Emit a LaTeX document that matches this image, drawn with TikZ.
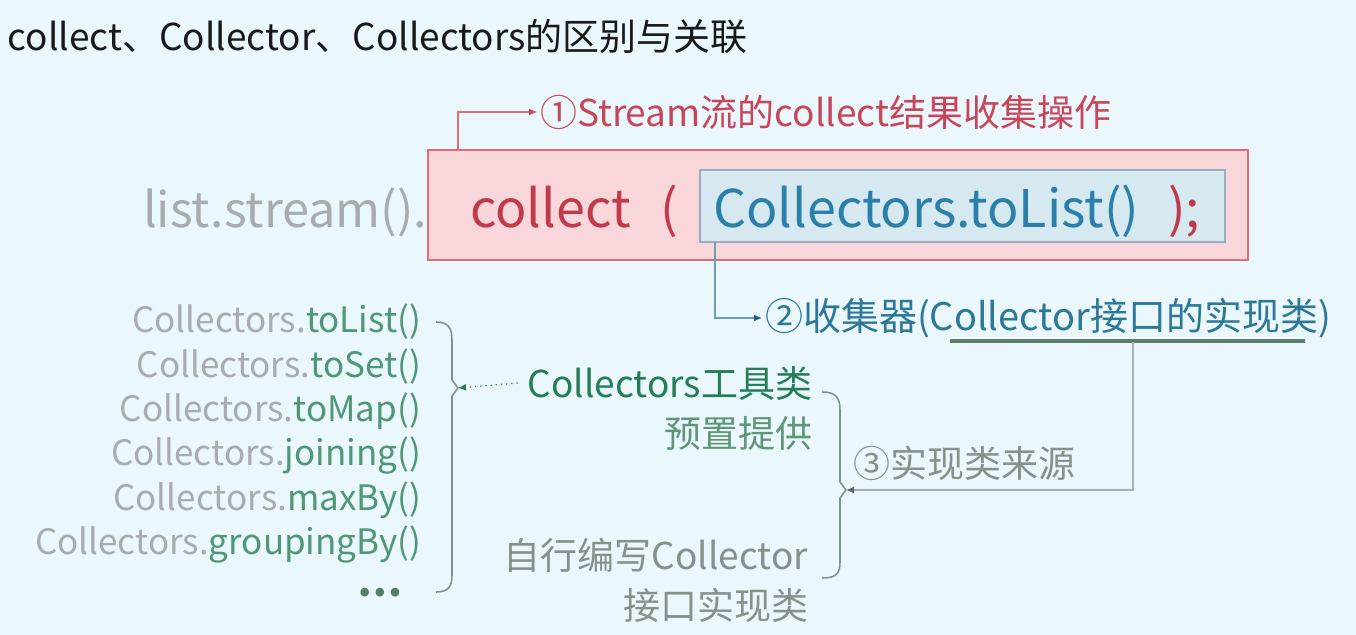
\documentclass[tikz,border=0pt]{standalone}
\usepackage{fontspec}
\setmainfont{Noto Sans CJK SC}
\usetikzlibrary{arrows.meta}
\definecolor{bg}{RGB}{234,247,252}
\definecolor{redfill}{RGB}{248,214,218}
\definecolor{redline}{RGB}{222,110,118}
\definecolor{redtext}{RGB}{192,58,76}
\definecolor{bluefill}{RGB}{214,232,240}
\definecolor{blueline}{RGB}{150,175,190}
\definecolor{bluetext}{RGB}{42,128,168}
\definecolor{graytext}{RGB}{168,172,175}
\definecolor{annored}{RGB}{200,70,90}
\definecolor{annoblue}{RGB}{45,120,150}
\definecolor{dgreen}{RGB}{35,125,85}
\definecolor{lgreen}{RGB}{95,150,120}
\definecolor{lgray}{RGB}{135,145,140}
\definecolor{linegray}{RGB}{165,175,175}
\definecolor{bracec}{RGB}{125,150,140}
\definecolor{ulc}{RGB}{95,125,105}
\definecolor{titlec}{RGB}{25,25,25}
\tikzset{
  code/.style={font=\fontsize{26pt}{30pt}\selectfont},
  anno/.style={font=\fontsize{18.5pt}{22pt}\selectfont},
  mid/.style={font=\fontsize{18.5pt}{22pt}\selectfont},
  lst/.style={font=\fontsize{17.5pt}{21pt}\selectfont, anchor=east},
  boxred/.style={draw=redline, fill=redfill, line width=0.9pt, minimum width=410pt, minimum height=55pt},
  boxblue/.style={draw=blueline, fill=bluefill, line width=0.7pt, minimum width=262.5pt, minimum height=36pt},
  arrred/.style={draw=redline, line width=0.6pt, -{Latex[length=4pt,width=3.5pt,color=annored]}},
  arrblue/.style={draw=annoblue!70, line width=0.6pt, -{Latex[length=4pt,width=3.5pt,color=annoblue!80!black]}},
  arrgray/.style={draw=linegray, line width=0.6pt, -{Latex[length=4pt,width=3.5pt,color=lgray!70!black]}},
  arrdot/.style={draw=dgreen, line width=0.6pt, dotted, -{Latex[length=4pt,width=3.5pt]}},
  bracel/.style={draw=bracec, line width=0.8pt, line join=round},
  uline/.style={draw=ulc, line width=1.6pt}
}
\begin{document}
\begin{tikzpicture}[x=0.5pt,y=-0.5pt, every node/.style={inner sep=0pt, outer sep=0pt}]
\fill[bg] (0,0) rectangle (1356,635);
\useasboundingbox (0,0) rectangle (1356,635);

% title
\node[anchor=west, text=titlec, font=\fontsize{18.5pt}{22pt}\selectfont] (title) at (8,37) {collect、Collector、Collectors的区别与关联};

% code line
\node[boxred] (rb) at (838,205) {};
\node[boxblue] (bb) at (962.5,206) {};
\node[code, text=graytext, anchor=base west, font=\fontsize{24.3pt}{28pt}\selectfont] (ls) at (143,228) {list.stream().};
\node[code, text=redtext, anchor=base west] (col) at (470,228) {collect};
\node[code, text=redtext, anchor=base west] (lp) at (660,228) {(};
\node[code, text=bluetext, anchor=base west] (ctl) at (713,228) {Collectors.toList()};
\node[code, text=redtext, anchor=base west] (rp) at (1168,228) {);};

% annotation 1
\node[anno, text=annored, anchor=west] (n1) at (540,112) {①Stream流的collect结果收集操作};
\draw[arrred] ([xshift=15pt]rb.north west) |- ([xshift=-1.5pt]n1.west);

% annotation 2
\node[anno, text=annoblue, anchor=west, font=\fontsize{19pt}{22pt}\selectfont] (n2) at (765,318) {②收集器(Collector接口的实现类)};
\draw[arrblue] ([xshift=7.5pt]bb.south west) |- ([xshift=-1.5pt]n2.west);
\coordinate (u1) at (950,341);
\coordinate (u2) at (1305,341);
\draw[uline] (u1) -- (u2);
\coordinate (um) at (1133,342);

% annotation 3
\coordinate (b2tip) at (846,490);
\draw[arrgray] (um) |- (b2tip);
\node[anno, text=lgray, anchor=west] (n3) at (853,463) {③实现类来源};

% middle brace
\draw[bracel] (822,392) .. controls (836,392) and (840,398) .. (840,410) -- (840,482) -- (b2tip) -- (840,498) -- (840,562) .. controls (840,574) and (836,578) .. (822,578);

% middle texts
\node[mid, text=dgreen, anchor=east] (n4) at (812,383) {Collectors工具类};
\node[mid, text=lgreen, anchor=east] (n5) at (812,433) {预置提供};
\node[mid, text=lgray, anchor=east] (n6) at (808,555) {自行编写Collector};
\node[mid, text=lgray, anchor=east] (n7) at (808,605) {接口实现类};

% left brace
\coordinate (b1tip) at (458,388);
\draw[bracel] (436,322) .. controls (448,322) and (452,328) .. (452,340) -- (452,380) -- (b1tip) -- (452,396) -- (452,575) .. controls (452,587) and (448,592) .. (436,592);
\draw[arrdot] ([xshift=-5pt]n4.west) -- (b1tip);

% left list
\node[lst] (l1) at (421,322) {\color{graytext}Collectors.\color{dgreen!80!white}toList()};
\node[lst] (l2) at (421,367) {\color{graytext}Collectors.\color{dgreen!80!white}toSet()};
\node[lst] (l3) at (421,411) {\color{graytext}Collectors.\color{dgreen!80!white}toMap()};
\node[lst] (l4) at (421,456) {\color{graytext}Collectors.\color{dgreen!80!white}joining()};
\node[lst] (l5) at (421,500) {\color{graytext}Collectors.\color{dgreen!80!white}maxBy()};
\node[lst] (l6) at (421,545) {\color{graytext}Collectors.\color{dgreen!80!white}groupingBy()};
\node[lst, text=dgreen!50!gray, font=\fontsize{20pt}{24pt}\bfseries] (l7) at (402,593) {…};
\end{tikzpicture}
\end{document}
